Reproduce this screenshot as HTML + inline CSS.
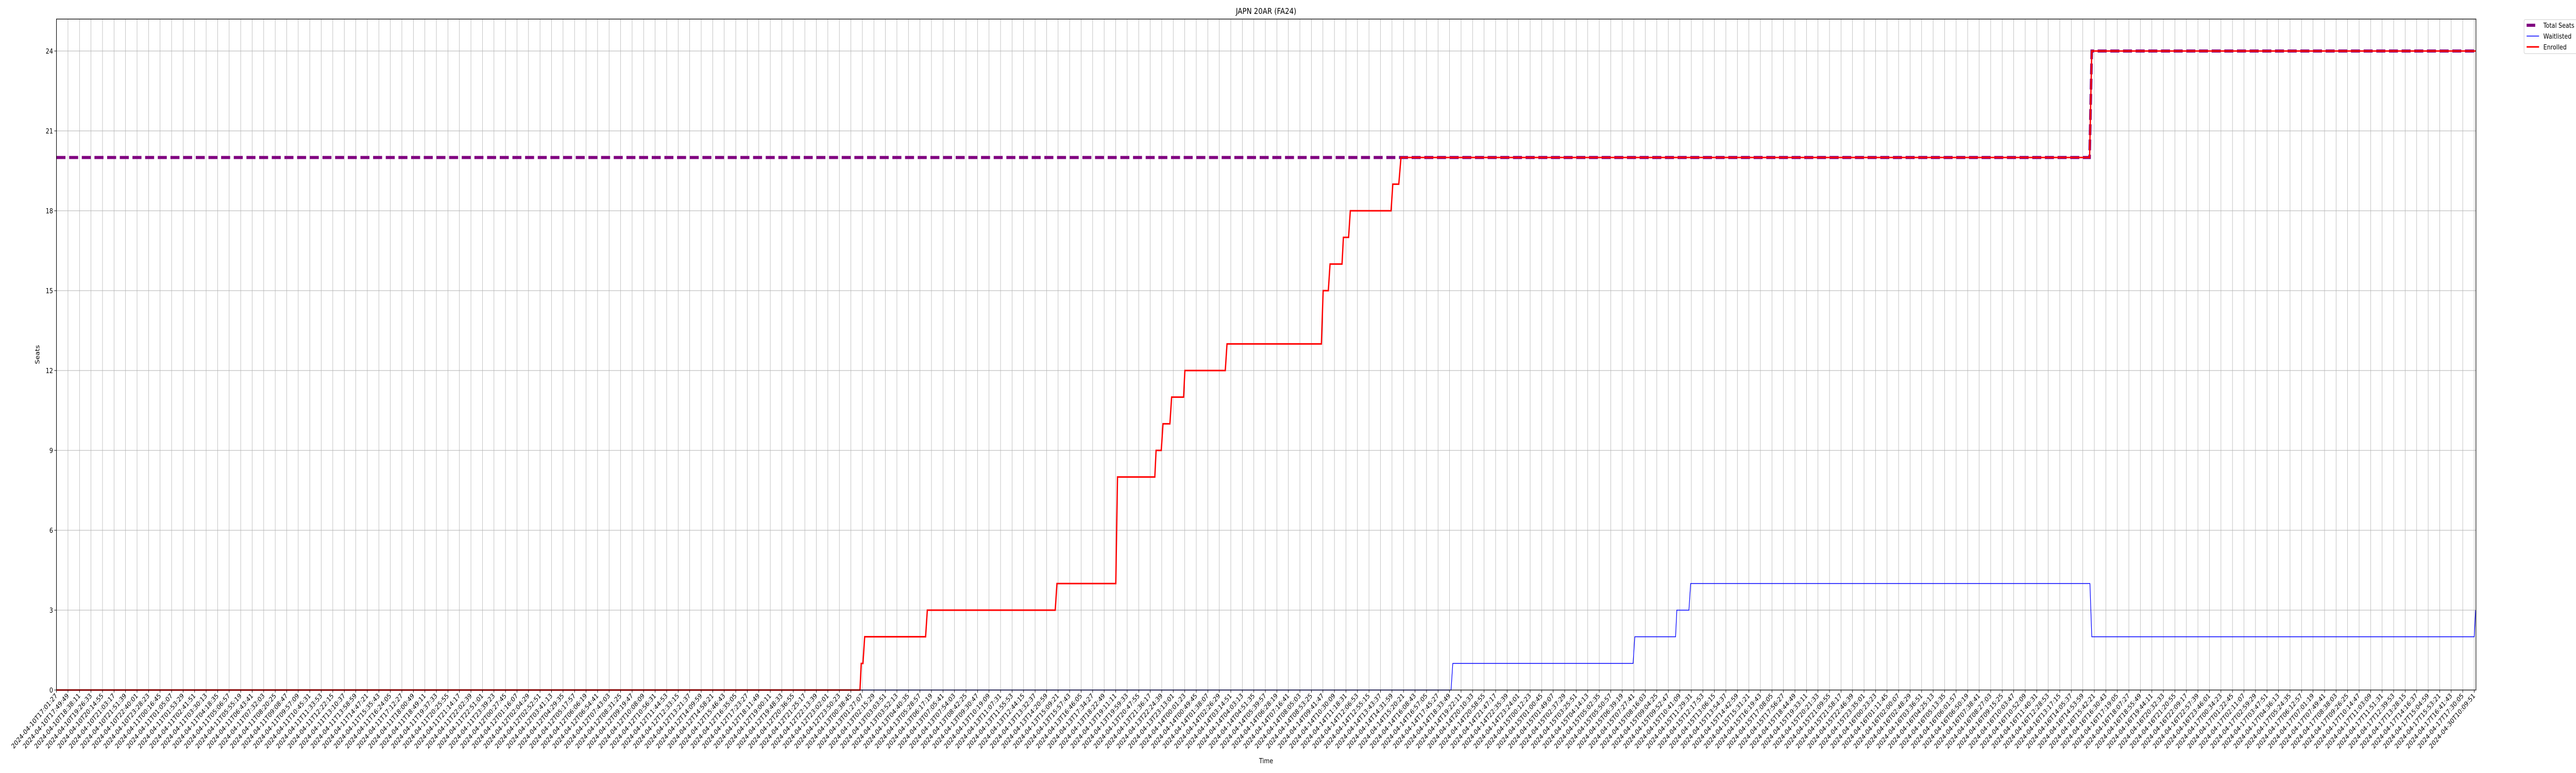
<!DOCTYPE html>
<html><head><meta charset="utf-8"><style>
html,body{margin:0;padding:0;background:#fff;width:100%;height:100%;overflow:hidden;}
svg{display:block;position:absolute;left:0;top:0;width:100vw;height:100vh;font-family:"DejaVu Sans","Liberation Sans",sans-serif;}
</style></head><body>
<svg id="chart" viewBox="0 0 6000 1500" preserveAspectRatio="none" xmlns="http://www.w3.org/2000/svg" overflow="hidden">
<rect x="0" y="0" width="6000" height="1500" fill="#fff"/>
<g id="grid"></g>
<g id="series"></g>
<rect x="131.5" y="37" width="5635.5" height="1302" fill="none" stroke="#000" stroke-width="1.3"/>
<g id="xticks"></g>
<g id="yticks"></g>
<text x="2949" y="27" font-size="16" text-anchor="middle">JAPN 20AR (FA24)</text>
<text x="2949" y="1481" font-size="13.3" text-anchor="middle">Time</text>
<text x="0" y="0" font-size="13.3" text-anchor="middle" transform="translate(92,688) rotate(-90)">Seats</text>
<g>
<rect x="5879" y="38" width="125" height="66" rx="3" fill="#fff" stroke="#ccc" stroke-width="1"/>
<g><line x1="5885" y1="49" x2="5905" y2="49" stroke="#800080" stroke-width="6"/><text x="5924" y="54" font-size="13.3">Total Seats</text></g>
<g><line x1="5885" y1="70" x2="5914" y2="70" stroke="#0000ff" stroke-width="1.5"/><text x="5924" y="75" font-size="13.3">Waitlisted</text></g>
<g><line x1="5885" y1="91" x2="5914" y2="91" stroke="#ff0000" stroke-width="3"/><text x="5924" y="96" font-size="13.3">Enrolled</text></g>
</g>
</svg>
<script>
// data (x in sample-index units, y in seats)
const enrolledX = [0,69.79,69.90,70.05,70.20,75.49,75.64,86.75,86.90,92.01,92.16,95.40,95.51,95.96,96.11,96.71,96.86,97.90,98.01,101.52,101.67,109.87,110.02,110.47,110.62,111.66,111.78,112.23,112.38,115.92,116.07,116.59,116.78,176.59,176.78,210.12];
const enrolledY = [0,0,1,1,2,2,3,3,4,4,8,8,9,9,10,10,11,11,12,12,13,13,15,15,16,16,17,17,18,18,19,19,20,20,24,24];
const waitX = [0,121.13,121.28,136.94,137.09,140.63,140.74,141.79,141.94,176.62,176.78,210.0,210.12];
const waitY = [0,0,1,1,2,2,3,3,4,4,2,2,3];
const totalX = [0,176.59,176.78,210.12];
const totalY = [20,20,24,24];
const yTicks = [0,3,6,9,12,15,18,21,24];
const tickCount = 211;
const startTime = "2024-04-10T17:01:27";

const L=131.5,R=5767,T=37,B=1339,XMAX=210.15,YMAX=25.2;
function sx(v){return L+(R-L)*v/XMAX;}
function sy(v){return B-(B-T)*v/YMAX;}
const NS="http://www.w3.org/2000/svg";
function mk(tag,attrs,parent){const e=document.createElementNS(NS,tag);for(const k in attrs)e.setAttribute(k,attrs[k]);parent.appendChild(e);return e;}

const xLabels=[];
let t=new Date(startTime+"Z").getTime();
for(let i=0;i<tickCount;i++){xLabels.push(new Date(t).toISOString().slice(0,19));t+=2902000;}
xLabels[tickCount-1]="2024-04-30T10:09:51";

const grid=document.getElementById('grid'),xt=document.getElementById('xticks'),yt=document.getElementById('yticks'),ser=document.getElementById('series');
xLabels.forEach((lab,i)=>{
  const x=sx(i);
  const gl=mk('line',{x1:x,y1:T,x2:x,y2:B,stroke:'#b0b0b0','stroke-width':0.9},grid);
  
  
  const tk=mk('line',{x1:x,y1:B,x2:x,y2:B+5,stroke:'#000','stroke-width':1},xt);
  
  
  const tx=mk('text',{x:0,y:0,'font-size':13.3,'text-anchor':'end',transform:`translate(${x+3},${B+12}) rotate(-45)`},xt);
  
  
  tx.textContent=lab;
});
yTicks.forEach(v=>{
  const y=sy(v);
  const gl=mk('line',{x1:L,y1:y,x2:R,y2:y,stroke:'#b0b0b0','stroke-width':0.9},grid);
  
  
  const tk=mk('line',{x1:L-5,y1:y,x2:L,y2:y,stroke:'#000','stroke-width':1},yt);
  
  
  const tx=mk('text',{x:L-8,y:y+5,'font-size':13.3,'text-anchor':'end'},yt);
  
  
  tx.textContent=String(v);
});
function pts(xs,ys){return xs.map((x,i)=>sx(x).toFixed(2)+','+sy(ys[i]).toFixed(2)).join(' ');}
const pTotal=mk('polyline',{points:pts(totalX,totalY),fill:'none',stroke:'#800080','stroke-width':6,'stroke-dasharray':'21 8.5'},ser);


const pWait=mk('polyline',{points:pts(waitX,waitY),fill:'none',stroke:'#0000ff','stroke-width':1.5},ser);


const pEnr=mk('polyline',{points:pts(enrolledX,enrolledY),fill:'none',stroke:'#ff0000','stroke-width':3},ser);


</script>
</body></html>
